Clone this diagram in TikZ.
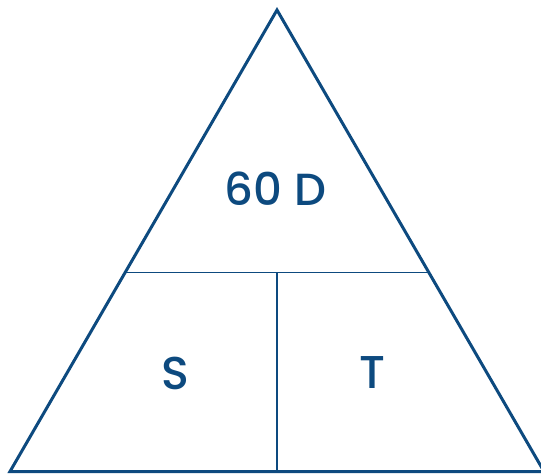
\documentclass[tikz,border=0pt]{standalone}
\usepackage{fontspec}
\newfontfamily\pop{Poppins Medium}
\definecolor{tblue}{HTML}{0D4A7F}
\begin{document}
\begin{tikzpicture}[x=1pt,y=-1pt,
  side/.style={draw=tblue,line width=3pt,line join=miter},
  inner/.style={draw=tblue,line width=1.5pt},
  lbl/.style={text=tblue,font=\pop,inner sep=0pt,anchor=center}]
\useasboundingbox (0,0) rectangle (541,475);
\clip (0,0) rectangle (541,475);
\coordinate (apex) at (277,10);
\coordinate (bl) at (10,471.5);
\coordinate (br) at (544,471.5);
\coordinate (ml) at (125.3,272.5);
\coordinate (mr) at (428.7,272.5);
\coordinate (mt) at (277,272.5);
\coordinate (mb) at (277,471.5);
\draw[inner] (ml) -- (mr);
\draw[inner] (mt) -- (mb);
\draw[side] (apex) -- (br) -- (bl) -- cycle;
\node[lbl,font=\pop\fontsize{45}{45}\selectfont] (d) at (275.5,189) {60 D};
\node[lbl,font=\pop\fontsize{46}{46}\selectfont] (s) at (175.5,373) {S};
\node[lbl,font=\pop\fontsize{46}{46}\selectfont] (t) at (372.5,373) {T};
\end{tikzpicture}
\end{document}
